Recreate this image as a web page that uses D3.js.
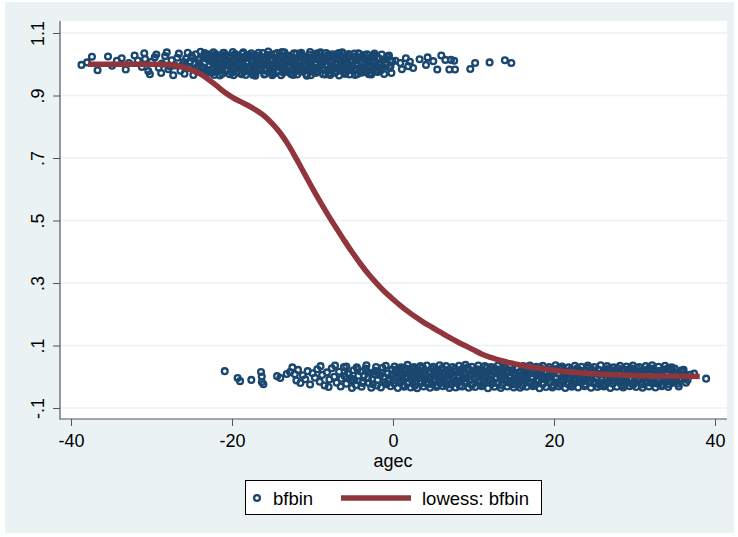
<!DOCTYPE html>
<html>
<head>
<meta charset="utf-8">
<script src="https://cdnjs.cloudflare.com/ajax/libs/d3/7.8.5/d3.min.js"></script>
<style>
  body { margin: 0; background: #fff; }
  svg { display: block; font-family: "Liberation Sans", Arial, sans-serif; }
</style>
</head>
<body>
<svg width="738" height="537"></svg>
<script>
// ticks
var xTicks = [-40, -20, 0, 20, 40];
var yTicks = [1.1, 0.9, 0.7, 0.5, 0.3, 0.1, -0.1];
var yTickLabels = ["1.1", ".9", ".7", ".5", ".3", ".1", "-.1"];

// bfbin == 1 (jittered)
var topPoints = [
  [-38.7,0.998],[-38.0,1.006],[-37.4,1.024],[-36.7,0.981],[-35.4,1.025],[-34.9,0.995],[-34.3,1.011],[-33.7,1.019],
  [-33.2,0.983],[-32.8,1.004],[-32.1,1.028],[-31.7,1.012],[-31.2,0.991],[-30.8,1.017],[-30.4,0.978],[-30.0,1.008],
  [-29.6,1.022],[-29.1,0.989],[-28.7,1.002],[-28.3,1.026],[-27.9,0.984],[-27.5,1.013],[-27.1,0.996],[-26.8,1.021],
  [-26.4,0.979],[-26.0,1.007],[-25.7,1.018],[-25.3,0.988],[-25.0,1.027],[-24.6,1.001],[-24.3,0.976],[-24.0,1.015],
  [-23.8,0.993],[-23.6,1.024],[-23.4,1.005],[-23.2,0.982],[-23.0,1.016],[-22.8,0.997],[-22.6,1.029],[-22.4,0.986],
  [-22.2,1.010],[-22.0,0.977],[-21.8,1.020],[-21.6,1.002],[-21.4,0.990],[-21.2,1.025],[-21.0,1.008],[-20.8,0.980],
  [-20.6,1.014],[-20.4,0.995],[-20.2,1.028],[-20.0,0.985],[-19.8,1.011],[-19.6,1.000],[-19.4,0.978],[-19.2,1.022],
  [-19.0,1.006],[-18.8,0.992],[-18.6,1.017],[-18.4,0.983],[-18.2,1.027],[-18.0,1.003],[-17.8,0.988],[-17.6,1.013],
  [-17.4,0.975],[-17.2,1.021],[-17.0,0.998],[-16.8,1.009],[-16.6,0.981],[-16.4,1.024],[-16.2,0.994],[-16.0,1.016],
  [-15.8,0.979],[-15.6,1.004],[-15.4,1.029],[-15.2,0.987],[-15.0,1.012],[-14.8,0.996],[-14.6,1.020],[-14.4,0.977],
  [-14.2,1.007],[-14.0,0.990],[-13.8,1.026],[-13.6,1.001],[-13.4,0.984],[-13.2,1.015],[-13.0,0.993],[-12.8,1.023],
  [-12.6,0.980],[-12.4,1.010],[-12.2,0.997],[-12.0,1.018],[-11.8,0.986],[-11.6,1.005],[-11.4,1.027],[-11.2,0.976],
  [-11.0,1.013],[-10.8,0.995],[-10.6,1.021],[-10.4,0.982],[-10.2,1.008],[-10.0,0.991],[-9.8,1.025],[-9.6,1.002],
  [-9.4,0.978],[-9.2,1.016],[-9.0,0.999],[-8.8,1.022],[-8.6,0.985],[-8.4,1.011],[-8.2,0.994],[-8.0,1.028],
  [-7.8,0.981],[-7.6,1.006],[-7.4,0.989],[-7.2,1.019],[-7.0,0.977],[-6.8,1.003],[-6.6,1.024],[-6.4,0.992],
  [-6.2,1.012],[-6.0,0.983],[-5.8,1.017],[-5.6,0.998],[-5.4,1.026],[-5.2,0.987],[-5.0,1.009],[-4.8,0.979],
  [-4.6,1.014],[-4.4,0.996],[-4.2,1.022],[-4.0,0.984],[-3.8,1.004],[-3.6,0.990],[-3.4,1.018],[-3.2,0.978],
  [-3.0,1.011],[-2.8,0.997],[-2.6,1.023],[-2.4,0.986],[-2.2,1.007],[-2.0,0.993],[-1.8,1.020],[-1.5,0.981],
  [-1.3,1.013],[-1.0,0.999],[-0.7,1.025],[-0.4,0.988],[-0.1,1.010],
  [-23.7,0.985],[-23.3,1.019],[-22.9,0.978],[-22.5,1.008],[-22.1,1.026],[-21.7,0.989],[-21.3,1.003],[-20.9,1.021],
  [-20.5,0.983],[-20.1,1.006],[-19.7,1.027],[-19.3,0.991],[-18.9,1.014],[-18.5,0.976],[-18.1,1.009],[-17.7,1.024],
  [-17.3,0.994],[-16.9,1.018],[-16.5,0.984],[-16.1,1.002],[-15.7,1.023],[-15.3,0.980],[-14.9,1.015],[-14.5,0.999],
  [-14.1,1.027],[-13.7,0.987],[-13.3,1.006],[-12.9,0.977],[-12.5,1.020],[-12.1,0.992],[-11.7,1.012],[-11.3,0.985],
  [-10.9,1.025],[-10.5,1.003],[-10.1,0.979],[-9.7,1.017],[-9.3,0.990],[-8.9,1.008],[-8.5,0.982],[-8.1,1.021],
  [-7.7,0.997],[-7.3,1.026],[-6.9,0.988],[-6.5,1.006],[-6.1,0.976],[-5.7,1.019],[-5.3,0.993],[-4.9,1.024],
  [-4.5,0.986],[-4.1,1.010],[-3.7,0.980],[-3.3,1.015],[-2.9,0.991],[-2.5,1.004],[-2.1,0.978],[-1.7,1.017],
  [-30.9,1.035],[-30.2,0.968],[-29.4,1.031],[-28.8,0.972],[-28.1,1.038],[-27.7,0.993],[-27.3,0.965],[-26.6,1.034],
  [-26.2,0.997],[-25.9,0.970],[-25.5,1.037],[-25.2,1.010],[-24.8,0.966],[-24.5,1.032],[-24.2,0.994],[-23.9,1.040],
  [-23.5,0.969],[-23.1,1.033],[-22.7,0.973],[-22.3,1.038],[-21.9,0.996],[-21.5,0.964],[-21.1,1.036],[-20.7,1.001],
  [-20.3,0.968],[-19.9,1.039],[-19.5,1.012],[-19.1,0.972],[-18.7,1.034],[-18.3,0.966],[-17.9,1.030],[-17.5,0.995],
  [-17.1,0.963],[-16.7,1.037],[-16.3,1.009],[-15.9,0.969],[-15.5,1.041],[-15.1,0.974],[-14.7,1.033],[-14.3,0.993],
  [-13.9,0.965],[-13.5,1.038],[-13.1,1.004],[-12.7,0.970],[-12.3,1.035],[-11.9,0.967],[-11.5,1.031],[-11.1,0.996],
  [-10.7,0.963],[-10.3,1.039],[-9.9,0.975],[-9.5,1.034],[-9.1,1.013],[-8.7,0.968],[-8.3,1.036],[-7.9,0.971],
  [-7.5,1.032],[-7.1,1.000],[-6.7,0.964],[-6.3,1.038],[-5.9,0.970],[-5.5,1.033],[-5.1,0.994],[-4.7,0.966],
  [-4.3,1.035],[-3.9,0.973],[-3.5,1.030],[-3.1,1.005],[-2.7,0.967],[-2.3,1.034],[-1.9,0.975],[-1.4,1.031],
  [-1.1,0.969],[-0.8,1.002],[-0.5,1.028],[-0.2,0.972],
  [-22.6,1.012],[-21.9,0.982],[-21.2,1.018],[-20.4,1.022],[-19.6,0.987],[-18.8,1.008],[-18.1,0.984],[-17.3,1.026],
  [-16.6,1.002],[-15.9,1.020],[-15.1,0.990],[-14.3,1.015],[-13.6,0.982],[-12.9,1.027],[-12.1,1.004],[-11.4,0.989],
  [-10.6,1.017],[-9.9,0.985],[-9.1,1.024],[-8.3,1.000],[-7.6,0.979],[-6.8,1.021],[-6.1,0.998],[-5.3,1.014],
  [-4.6,0.983],[-3.8,1.025],[-3.1,0.992],[-2.3,1.012],[-1.6,0.986],
  [-24.9,1.020],[-24.4,0.989],[-24.1,1.003],[-23.6,0.972],[-23.2,1.028],[-22.8,1.011],[-22.4,0.974],[-22.0,1.032],
  [-21.6,0.985],[-21.2,0.970],[-20.8,1.030],[-20.4,1.008],[-20.0,0.973],[-19.6,1.033],[-19.2,0.996],[-18.8,0.968],
  [-18.4,1.025],[-18.0,0.990],[-17.6,1.035],[-17.2,0.971],[-16.8,1.027],[-16.4,0.988],[-16.0,0.967],[-15.6,1.030],
  [-15.2,1.000],[-14.8,0.970],[-14.4,1.036],[-14.0,1.012],[-13.6,0.973],[-13.2,1.029],[-12.8,0.990],[-12.4,0.966],
  [-12.0,1.034],[-11.6,0.978],[-11.2,1.022],[-10.8,0.969],[-10.4,1.030],[-10.0,1.013],[-9.6,0.972],[-9.2,1.036],
  [-8.8,0.987],[-8.4,0.967],[-8.0,1.031],[-7.6,0.996],[-7.2,0.973],[-6.8,1.035],[-6.4,1.015],[-6.0,0.970],
  [-5.6,1.029],[-5.2,0.981],[-4.8,1.034],[-4.4,0.969],[-4.0,1.021],[-3.6,0.975],[-3.2,1.032],[-2.8,0.971],
  [-2.4,1.027],[-2.0,0.980],[-1.6,1.000],[-1.2,0.991],[-0.9,1.018],[-0.3,0.995],
  [-23.4,1.036],[-22.2,0.966],[-21.0,1.037],[-19.8,0.965],[-18.6,1.038],[-17.4,0.966],[-16.2,1.036],[-15.0,0.965],
  [-13.8,1.039],[-12.6,0.968],[-11.4,1.037],[-10.2,0.965],[-9.0,1.038],[-7.8,0.966],[-6.6,1.036],[-5.4,0.967],
  [-4.2,1.033],[-3.0,0.968],
  [0.3,1.011],[0.9,1.004],[1.1,0.984],[1.6,1.019],[1.9,0.994],[2.1,1.008],[2.5,0.988],[3.3,1.016],
  [4.1,0.998],[4.3,1.022],[5.0,1.010],[5.5,0.983],[6.0,1.028],[6.5,1.014],[7.0,0.983],[7.2,1.014],
  [7.6,1.011],[7.7,0.983],[9.6,0.985],[10.2,1.004],[12.0,1.006],[13.9,1.013],[14.7,1.004]
];

// bfbin == 0 (jittered)
var bottomPoints = [
  [-20.9,0.018],[-19.3,-0.004],[-19.0,-0.014],[-17.6,-0.010],[-16.4,0.015],[-16.3,0.001],[-16.3,-0.017],[-16.1,-0.024],
  [-14.4,0.002],[-14.0,-0.004],[-13.2,0.009],[-12.8,0.015],[-12.5,0.030],[-12.2,0.008],[-12.0,-0.012],[-11.8,0.022],
  [-11.5,-0.020],[-11.2,0.005],[-10.9,-0.008],[-10.6,0.018],[-10.3,-0.025],[-10.0,0.011],[-9.7,-0.003],[-9.4,0.024],
  [-9.1,-0.016],[-8.8,0.006],[-8.5,-0.028],[-8.2,0.014],[-7.9,-0.009],[-7.6,0.027],[-7.3,0.000],[-7.0,-0.019],
  [-6.7,0.016],[-6.4,-0.006],[-6.1,0.031],[-5.8,-0.022],[-5.5,0.008],[-5.2,-0.012],[-4.9,0.021],[-4.6,-0.027],
  [-4.3,0.003],[-4.0,0.017],[-3.7,-0.015],[-3.4,0.026],[-3.1,-0.004],[-2.8,0.012],[-2.5,-0.024],[-2.2,0.019],
  [-1.9,-0.010],[-1.6,0.005],[-1.3,0.029],[-1.0,-0.018],[-0.7,0.010],[-0.4,-0.006],[-0.1,0.023],
  [0.1,-0.021],[0.3,0.014],[0.5,-0.002],[0.7,0.027],[0.9,-0.013],[1.1,0.006],[1.3,-0.026],[1.5,0.018],
  [1.7,0.001],[1.9,-0.017],[2.1,0.024],[2.3,-0.007],[2.5,0.011],[2.7,-0.029],[2.9,0.020],[3.1,-0.003],
  [3.3,0.015],[3.5,-0.021],[3.7,0.030],[3.9,-0.011],[4.1,0.004],[4.3,-0.024],[4.5,0.017],[4.7,-0.005],
  [4.9,0.025],[5.1,-0.015],[5.3,0.009],[5.5,-0.027],[5.7,0.013],[5.9,0.000],[6.1,0.028],[6.3,-0.019],
  [6.5,0.007],[6.7,-0.009],[6.9,0.022],[7.1,-0.025],[7.3,0.012],[7.5,-0.001],[7.7,0.026],[7.9,-0.014],
  [8.1,0.005],[8.3,-0.030],[8.5,0.019],[8.7,-0.006],[8.9,0.010],[9.1,-0.020],[9.3,0.029],[9.5,-0.010],
  [9.7,0.003],[9.9,-0.023],[10.1,0.016],[10.3,-0.004],[10.5,0.024],[10.7,-0.016],[10.9,0.008],[11.1,-0.028],
  [11.3,0.014],[11.5,0.001],[11.7,0.030],[11.9,-0.012],[12.1,0.006],[12.3,-0.022],[12.5,0.018],[12.7,-0.007],
  [12.9,0.023],[13.1,-0.018],[13.3,0.011],[13.5,-0.026],[13.7,0.002],[13.9,0.027],[14.1,-0.011],[14.3,0.015],
  [14.5,-0.003],[14.7,0.021],[14.9,-0.024],[15.1,0.009],[15.3,-0.015],[15.5,0.028],[15.7,-0.008],[15.9,0.004],
  [16.1,-0.029],[16.3,0.017],[16.5,-0.002],[16.7,0.025],[16.9,-0.019],[17.1,0.012],[17.3,-0.006],[17.5,0.020],
  [17.7,-0.025],[17.9,0.007],[18.1,-0.013],[18.3,0.029],[18.5,0.000],[18.7,-0.021],[18.9,0.014],[19.1,-0.009],
  [19.3,0.024],[19.5,-0.017],[19.7,0.005],[19.9,-0.027],[20.1,0.019],[20.3,-0.004],[20.5,0.010],[20.7,-0.023],
  [20.9,0.026],[21.1,-0.012],[21.3,0.003],[21.5,-0.020],[21.7,0.016],[21.9,-0.001],[22.1,0.022],[22.3,-0.028],
  [22.5,0.008],[22.7,-0.010],[22.9,0.027],[23.1,-0.016],[23.3,0.013],[23.5,-0.005],[23.7,0.018],[23.9,-0.024],
  [24.1,0.002],[24.3,0.030],[24.5,-0.014],[24.7,0.006],[24.9,-0.021],[25.1,0.015],[25.3,-0.003],[25.5,0.023],
  [25.7,-0.018],[25.9,0.009],[26.1,-0.026],[26.3,0.012],[26.5,-0.008],[26.7,0.025],[26.9,-0.011],[27.1,0.004],
  [27.3,-0.022],[27.5,0.020],[27.7,-0.006],[27.9,0.028],[28.1,-0.015],[28.3,0.010],[28.5,-0.027],[28.7,0.017],
  [28.9,0.001],[29.1,-0.019],[29.3,0.024],[29.5,-0.009],[29.7,0.013],[29.9,-0.023],[30.1,0.006],[30.3,0.029],
  [30.5,-0.013],[30.7,0.003],[30.9,-0.025],[31.1,0.018],[31.3,-0.004],[31.5,0.022],[31.7,-0.017],[31.9,0.011],
  [32.1,-0.007],[32.3,0.026],[32.5,-0.021],[32.7,0.008],[32.9,-0.012],[33.1,0.019],[33.3,-0.028],[33.5,0.005],
  [33.7,0.023],[33.9,-0.010],[34.1,0.014],[34.3,-0.024],[34.5,0.000],[34.7,0.021],[35.0,-0.016],[35.3,0.012],
  [35.6,-0.006],[36.0,0.017],[36.4,-0.019],[36.9,0.006],[37.4,0.010],[38.9,-0.006],
  [-3.6,0.004],[-3.0,-0.020],[-2.0,0.015],[-1.1,-0.001],[0.0,0.008],[0.8,-0.018],[1.6,0.026],[2.4,-0.011],
  [3.2,0.003],[4.0,0.021],[4.8,-0.023],[5.6,0.010],[6.4,-0.004],[7.2,0.018],[8.0,-0.016],[8.8,0.027],
  [9.6,-0.008],[10.4,0.012],[11.2,-0.021],[12.0,0.019],[12.8,-0.002],[13.6,0.022],[14.4,-0.019],[15.2,0.005],
  [16.0,-0.012],[16.8,0.016],[17.6,-0.027],[18.4,0.011],[19.2,-0.001],[20.0,0.024],[20.8,-0.015],[21.6,0.007],
  [22.4,-0.020],[23.2,0.021],[24.0,-0.008],[24.8,0.013],[25.6,-0.024],[26.4,0.020],[27.2,-0.003],[28.0,0.015],
  [28.8,-0.021],[29.6,0.027],[30.4,-0.009],[31.2,0.004],[32.0,-0.019],[32.8,0.016],[33.6,-0.002],[34.4,0.025],
  [35.2,-0.013],[36.2,0.009],
  [-9.0,0.034],[-8.0,-0.033],[-7.2,0.036],[-6.5,-0.031],[-5.8,0.033],[-5.1,-0.036],[-4.5,0.030],[-3.9,-0.032],
  [-3.3,0.037],[-2.7,-0.035],[-2.1,0.031],[-1.5,-0.034],[-0.9,0.035],[-0.3,-0.030],
  [0.2,0.033],[0.6,-0.036],[1.0,0.030],[1.4,-0.032],[1.8,0.038],[2.2,-0.034],[2.6,0.031],[3.0,-0.037],
  [3.4,0.034],[3.8,-0.031],[4.2,0.036],[4.6,-0.035],[5.0,0.032],[5.4,-0.033],[5.8,0.037],[6.2,-0.030],
  [6.6,0.034],[7.0,-0.036],[7.4,0.031],[7.8,-0.034],[8.2,0.035],[8.6,-0.031],[9.0,0.038],[9.4,-0.035],
  [9.8,0.032],[10.2,-0.033],[10.6,0.036],[11.0,-0.030],[11.4,0.034],[11.8,-0.037],[12.2,0.031],[12.6,-0.032],
  [13.0,0.035],[13.4,-0.036],[13.8,0.033],[14.2,-0.031],[14.6,0.037],[15.0,-0.034],[15.4,0.030],[15.8,-0.035],
  [16.2,0.034],[16.6,-0.032],[17.0,0.036],[17.4,-0.030],[17.8,0.032],[18.2,-0.037],[18.6,0.035],[19.0,-0.033],
  [19.4,0.031],[19.8,-0.034],[20.2,0.037],[20.6,-0.031],[21.0,0.033],[21.4,-0.036],[21.8,0.030],[22.2,-0.032],
  [22.6,0.035],[23.0,-0.034],[23.4,0.032],[23.8,-0.030],[24.2,0.036],[24.6,-0.035],[25.0,0.031],[25.4,-0.033],
  [25.8,0.037],[26.2,-0.031],[26.6,0.034],[27.0,-0.036],[27.4,0.030],[27.8,-0.032],[28.2,0.035],[28.6,-0.034],
  [29.0,0.033],[29.4,-0.030],[29.8,0.036],[30.2,-0.033],[30.6,0.031],[31.0,-0.035],[31.4,0.034],[31.8,-0.031],
  [32.2,0.037],[32.6,-0.034],[33.0,0.032],[33.4,-0.030],[33.8,0.035],[34.2,-0.033],[34.6,0.030],[35.0,0.026],
  [35.5,-0.031],[36.1,0.022],[36.6,-0.010],
  [-6.0,0.002],[-4.8,-0.012],[-2.4,0.009],[-0.6,-0.013],[0.4,0.017],[1.2,-0.009],[2.0,0.012],[2.8,-0.016],
  [3.6,0.008],[4.4,-0.006],[5.2,0.019],[6.0,-0.012],[6.8,0.004],[7.6,-0.020],[8.4,0.015],[9.2,-0.002],
  [10.0,0.020],[10.8,-0.011],[11.6,0.006],[12.4,-0.017],[13.2,0.012],[14.0,-0.005],[14.8,0.018],[15.6,-0.014],
  [16.4,0.004],[17.2,-0.019],[18.0,0.013],[18.8,-0.007],[19.6,0.016],[20.4,-0.018],[21.2,0.009],[22.0,-0.003],
  [22.8,0.014],[23.6,-0.012],[24.4,0.019],[25.2,-0.006],[26.0,0.011],[26.8,-0.017],[27.6,0.006],[28.4,-0.010],
  [29.2,0.018],[30.0,-0.014],[30.8,0.010],[31.6,-0.002],[32.4,0.015],[33.2,-0.011],[34.0,0.007],[34.8,-0.019],
  [35.8,0.004],
  [-5.6,0.011],[-5.0,-0.007],[-4.4,0.024],[-3.8,-0.020],[-3.2,0.016],[-2.6,-0.009],[-2.0,-0.028],[-1.4,0.013],
  [-0.8,-0.024],[-0.2,0.003],[0.2,-0.010],[0.6,0.021],[1.0,-0.004],[1.4,0.010],[1.8,-0.022],[2.2,0.002],
  [2.6,0.026],[3.0,0.009],[3.4,-0.014],[3.8,0.018],[4.2,-0.018],[4.6,0.001],[5.0,-0.010],[5.4,0.022],
  [5.8,-0.020],[6.2,0.013],[6.6,-0.026],[7.0,0.009],[7.4,-0.011],[7.8,0.017],[8.2,-0.004],[8.6,0.025],
  [9.0,-0.014],[9.4,0.006],[9.8,-0.027],[10.2,0.014],[10.6,-0.001],[11.0,0.022],[11.4,-0.016],[11.8,0.011],
  [12.2,-0.009],[12.6,0.027],[13.0,-0.021],[13.4,0.004],[13.8,-0.008],[14.2,0.020],[14.6,-0.013],[15.0,0.012],
  [15.4,-0.026],[15.8,0.016],[16.2,-0.006],[16.6,0.009],[17.0,-0.017],[17.4,0.025],[17.8,-0.010],[18.2,0.004],
  [18.6,-0.024],[19.0,0.017],[19.4,-0.003],[19.8,0.012],[20.2,-0.020],[20.6,0.028],[21.0,-0.007],[21.4,0.015],
  [21.8,-0.025],[22.2,0.005],[22.6,-0.013],[23.0,0.023],[23.4,-0.018],[23.8,0.008],[24.2,-0.004],[24.6,0.026],
  [25.0,-0.016],[25.4,0.010],[25.8,-0.028],[26.2,0.017],[26.6,-0.002],[27.0,0.022],[27.4,-0.013],[27.8,0.001],
  [28.2,-0.020],[28.6,0.025],[29.0,-0.009],[29.4,0.011],[29.8,-0.026],[30.2,0.019],[30.6,-0.005],[31.0,0.014],
  [31.4,-0.019],[31.8,0.026],[32.2,-0.011],[32.6,0.003],[33.0,-0.023],[33.4,0.017],[33.8,-0.006],[34.2,0.028],
  [34.6,-0.014],[35.0,0.006],[35.4,-0.022],[35.8,0.020],[36.3,-0.004]
];

// lowess smooth
var lowessX = [-37.9, -34, -30, -28, -27, -26, -25, -24, -23, -22, -21, -20, -19, -18, -17, -16, -15, -14,
  -13, -12, -11, -10, -9, -8, -7, -6, -5, -4, -3, -2, -1, 0, 1, 2, 3, 4, 5, 6, 7, 8, 9, 10, 11, 12, 13, 14,
  15, 16, 18, 20, 22, 24, 26, 28, 30, 34, 38.1];
var lowessY = [1.0, 1.0, 1.0, 0.999, 0.996, 0.99, 0.982, 0.97, 0.953, 0.933, 0.912, 0.895, 0.881, 0.868, 0.853,
  0.835, 0.81, 0.78, 0.742, 0.697, 0.65, 0.603, 0.558, 0.515, 0.474, 0.434, 0.396, 0.36, 0.327, 0.298, 0.271,
  0.248, 0.226, 0.206, 0.188, 0.171, 0.156, 0.141, 0.126, 0.112, 0.099, 0.086, 0.073, 0.063, 0.055, 0.048,
  0.042, 0.036, 0.028, 0.021, 0.015, 0.011, 0.008, 0.006, 0.004, 0.002, 0.001];

var navy = "#1a476f", maroon = "#90353b", bg = "#eaf2f3";
var svg = d3.select("svg");

var plot = { left: 60, right: 727, top: 21, bottom: 419 };

svg.append("rect").attr("x", 5).attr("y", 2).attr("width", 729).attr("height", 531).attr("fill", bg);
svg.append("rect").attr("x", plot.left).attr("y", plot.top)
  .attr("width", plot.right - plot.left).attr("height", plot.bottom - plot.top).attr("fill", "#fff");

var x = d3.scaleLinear().domain([-40, 40]).range([71, 715]);
var y = d3.scaleLinear().domain([-0.1, 1.1]).range([408, 33]);

// grid
svg.append("g").selectAll("line").data(yTicks).enter().append("line")
  .attr("x1", plot.left).attr("x2", plot.right)
  .attr("y1", function(d) { return y(d); }).attr("y2", function(d) { return y(d); })
  .attr("stroke", bg).attr("stroke-width", 1.5);

// axes
var yAxis = svg.append("g").attr("transform", "translate(" + plot.left + ",0)")
  .call(d3.axisLeft(y).tickValues(yTicks).tickSize(7).tickSizeOuter(0)
    .tickFormat(function(d, i) { return yTickLabels[i]; }));
yAxis.select(".domain").remove();
yAxis.selectAll("text").attr("x", null).attr("dy", null)
  .attr("transform", "translate(-16,0) rotate(-90)").attr("text-anchor", "middle")
  .attr("fill", "#000").style("font-size", "18px").style("font-family", "'Liberation Sans', Arial, sans-serif");

var xAxis = svg.append("g").attr("transform", "translate(0," + plot.bottom + ")")
  .call(d3.axisBottom(x).tickValues(xTicks).tickSize(7).tickSizeOuter(0)
    .tickFormat(function(d) { return String(d); }));
xAxis.select(".domain").remove();
xAxis.selectAll("text").attr("y", 28).attr("dy", null)
  .attr("fill", "#000").style("font-size", "18px").style("font-family", "'Liberation Sans', Arial, sans-serif");

svg.selectAll(".tick line").attr("stroke", "#555");
svg.append("line").attr("x1", plot.left).attr("x2", plot.left).attr("y1", plot.top).attr("y2", plot.bottom + 0.5)
  .attr("stroke", "#555").attr("stroke-width", 1.2);
svg.append("line").attr("x1", plot.left).attr("x2", plot.right).attr("y1", plot.bottom).attr("y2", plot.bottom)
  .attr("stroke", "#555").attr("stroke-width", 1.2);

svg.append("text").attr("x", x(0)).attr("y", 467).attr("text-anchor", "middle")
  .style("font-size", "18px").text("agec");

// scatter
svg.append("g").selectAll("circle").data(topPoints.concat(bottomPoints)).enter().append("circle")
  .attr("cx", function(d) { return x(d[0]); })
  .attr("cy", function(d) { return y(d[1]); })
  .attr("r", 2.9)
  .attr("fill", "none").attr("stroke", navy).attr("stroke-width", 2.3);

// lowess
var line = d3.line()
  .x(function(d) { return x(d[0]); })
  .y(function(d) { return y(d[1]); })
  .curve(d3.curveMonotoneX);
svg.append("path").datum(d3.zip(lowessX, lowessY))
  .attr("d", line).attr("fill", "none").attr("stroke", maroon).attr("stroke-width", 5.5);

// legend
var lg = svg.append("g");
lg.append("rect").attr("x", 245.5).attr("y", 480.5).attr("width", 296).attr("height", 34)
  .attr("fill", "#fff").attr("stroke", "#000").attr("stroke-width", 1);
lg.append("circle").attr("cx", 257).attr("cy", 498).attr("r", 2.9)
  .attr("fill", "none").attr("stroke", navy).attr("stroke-width", 2.3);
lg.append("text").attr("x", 273).attr("y", 505).style("font-size", "18.5px").text("bfbin");
lg.append("line").attr("x1", 341).attr("x2", 411).attr("y1", 498).attr("y2", 498)
  .attr("stroke", maroon).attr("stroke-width", 5.5);
lg.append("text").attr("x", 422).attr("y", 505).style("font-size", "18.5px").text("lowess: bfbin");
</script>
</body>
</html>
